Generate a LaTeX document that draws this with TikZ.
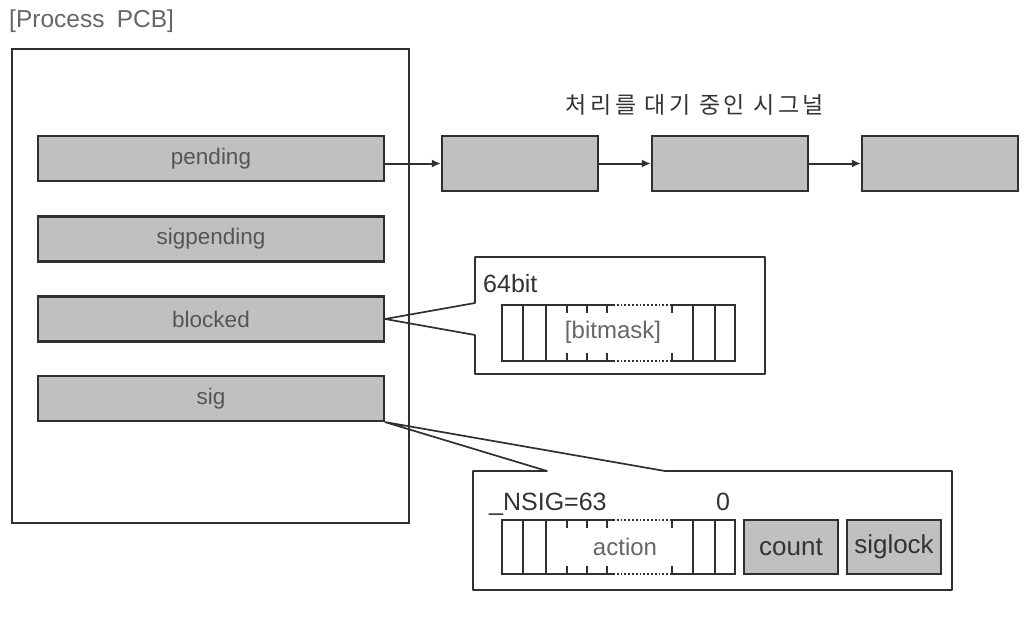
\documentclass[tikz,border=0pt]{standalone}
\usepackage{fontspec}
\setmainfont{Liberation Sans}
\newfontfamily\krfont[LetterSpace=15]{Noto Sans CJK KR}
\usetikzlibrary{arrows.meta}
\definecolor{boxfill}{HTML}{C0C0C0}
\definecolor{edgecol}{HTML}{303030}
\definecolor{lblcol}{HTML}{555555}
\definecolor{darkcol}{HTML}{333333}
\definecolor{lightcol}{HTML}{666666}
\newcommand\bitrow[2]{%
  \draw[edgeline] (613,#1) -- (502,#1) -- (502,#2) -- (613,#2);
  \draw[edgeline] (670,#1) -- (735,#1) -- (735,#2) -- (670,#2);
  \draw[edgeline, dash pattern=on 1.8pt off 2pt] (613,#1) -- (670,#1);
  \draw[edgeline, dash pattern=on 1.8pt off 2pt] (613,#2) -- (670,#2);
  \foreach \xx in {523,546,693,715} {\draw[edgeline] (\xx,#1) -- (\xx,#2);}
  \foreach \xx in {567,587,607,672} {\draw[edgeline] (\xx,#1) -- ++(0,8); \draw[edgeline] (\xx,#2) -- ++(0,-8);}
}
\begin{document}
\begin{tikzpicture}[x=1pt,y=-1pt,
  edgeline/.style={draw=edgecol, line width=1.7pt},
  fld/.style={draw=edgecol, line width=2.2pt, fill=boxfill, inner sep=0pt,
    minimum width=346pt, minimum height=45pt,
    font=\fontsize{22.5}{26}\selectfont, text=lblcol},
  chainbox/.style={draw=edgecol, line width=2.2pt, fill=boxfill, inner sep=0pt,
    minimum width=156pt, minimum height=55pt},
  smallbox/.style={draw=edgecol, line width=2.2pt, fill=boxfill, inner sep=0pt,
    minimum width=94pt, minimum height=54pt,
    font=\fontsize{26}{30}\selectfont, text=darkcol},
  arr/.style={draw=edgecol, line width=2pt, -{Latex[length=9pt,width=8pt]}},
  lbl/.style={inner sep=0pt, font=\fontsize{25}{30}\selectfont, text=darkcol},
  inlbl/.style={inner sep=0pt, font=\fontsize{24}{28}\selectfont, text=lightcol}
]
\useasboundingbox (0,0) rectangle (1033,618);

% title
\node[inner sep=0pt, anchor=base west, font=\fontsize{24.5}{28}\selectfont, text=lightcol] (title) at (9,28) {[Process\hspace{0.5em}PCB]};

% PCB box
\node[draw=edgecol, line width=2.4pt, minimum width=397pt, minimum height=474pt, inner sep=0pt] (pcb) at (210.5,286) {};

% fields
\node[fld] (pending) at (211,158.5) {pending};
\node[fld] (sigpending) at (211,239) {sigpending};
\node[fld] (blocked) at (211,319) {blocked};
\node[fld] (sig) at (211,398.5) {sig};

% pending chain
\node[inner sep=0pt, font=\krfont\fontsize{23}{26}\selectfont, text=darkcol] (chaintitle) at (695,105) {처리를 대기 중인 시그널};
\node[chainbox] (c1) at (520,163.5) {};
\node[chainbox] (c2) at (730,163.5) {};
\node[chainbox] (c3) at (940,163.5) {};
\draw[arr] (pending.east |- c1.west) -- (c1.west);
\draw[arr] (c1.east) -- (c2.west);
\draw[arr] (c2.east) -- (c3.west);

% blocked callout
\draw[edgeline, line join=round] (475,303) -- (475,257) -- (765,257) -- (765,374) -- (475,374) -- (475,335) -- (blocked.east) -- cycle;
\node[lbl, anchor=base west] (bits) at (483,292) {64bit};
\bitrow{305}{361}
\node[inlbl] (bitmask) at (613,332) {[bitmask]};

% sig callout
\draw[edgeline, line join=round] (547,471) -- (sig.south east) -- (665,471) -- (952,471) -- (952,590) -- (473,590) -- (473,471) -- cycle;
\node[lbl, anchor=base west] (nsig) at (489,510) {\_NSIG=63};
\node[lbl, anchor=base] (zero) at (723,510) {0};
\bitrow{520}{574}
\node[inlbl] (action) at (625,547) {action};
\node[smallbox] (count) at (791,547) {count};
\node[smallbox] (siglock) at (894,547) {siglock};
\end{tikzpicture}
\end{document}
